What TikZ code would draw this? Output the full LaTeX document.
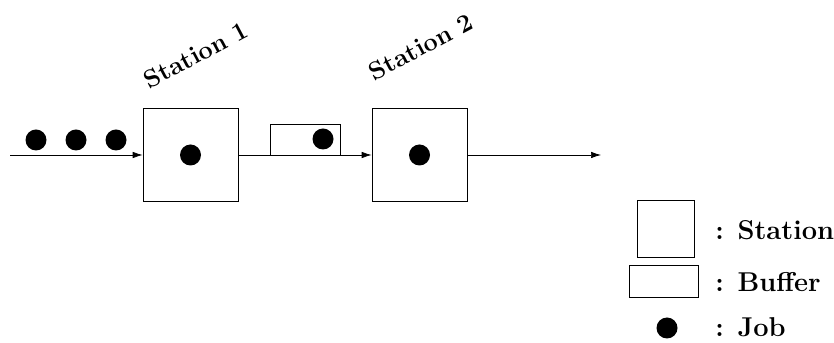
\documentclass[tikz,border=0pt]{standalone}
\usetikzlibrary{arrows.meta}
\begin{document}
\begin{tikzpicture}[x=0.2mm,y=-0.2mm,
  flow/.style={-{Latex[length=2mm,width=1.3mm]}},
  station/.style={draw,minimum width=19mm,minimum height=18.6mm,inner sep=0pt},
  buffer/.style={draw,minimum width=14mm,minimum height=6.2mm,inner sep=0pt},
  job/.style={circle,fill=black,minimum size=4.2mm,inner sep=0pt},
  stlabel/.style={font=\Large\bfseries,rotate=28},
  keytext/.style={font=\fontsize{15.5}{18}\selectfont\bfseries,anchor=west,inner sep=0pt}]
\useasboundingbox (0,0) rectangle (834,343);

% line of stations
\node[station] (st1) at (190.5,155) {};
\node[station] (st2) at (419.5,155) {};
\node[buffer] (buf) at (305,139.5) {};
\coordinate (in) at (10,155);
\coordinate (out) at (601,155);

\draw[flow] (in) -- (st1);
\draw[flow] (st1) -- (st2);
\draw[flow] (st2) -- (out);

% jobs
\node[job] (q1) at (36,140) {};
\node[job] (q2) at (76,140) {};
\node[job] (q3) at (116,140) {};
\node[job] (j1) at (st1.center) {};
\node[job] (jb) at (323,139) {};
\node[job] (j2) at (st2.center) {};

\node[stlabel] (lab1) at (196,55) {Station 1};
\node[stlabel] (lab2) at (421,47) {Station 2};

% legend
\node[station,minimum width=11.4mm,minimum height=11.4mm] (kst) at (665.5,228.5) {};
\node[buffer,minimum width=13.8mm,minimum height=6.4mm] (kbuf) at (663.5,281) {};
\node[job] (kjob) at (667,328) {};
\node[keytext] (tst) at (715,230) {: Station};
\node[keytext] (tbuf) at (715,282) {: Buffer};
\node[keytext] (tjob) at (715,327) {: Job};

\end{tikzpicture}
\end{document}
